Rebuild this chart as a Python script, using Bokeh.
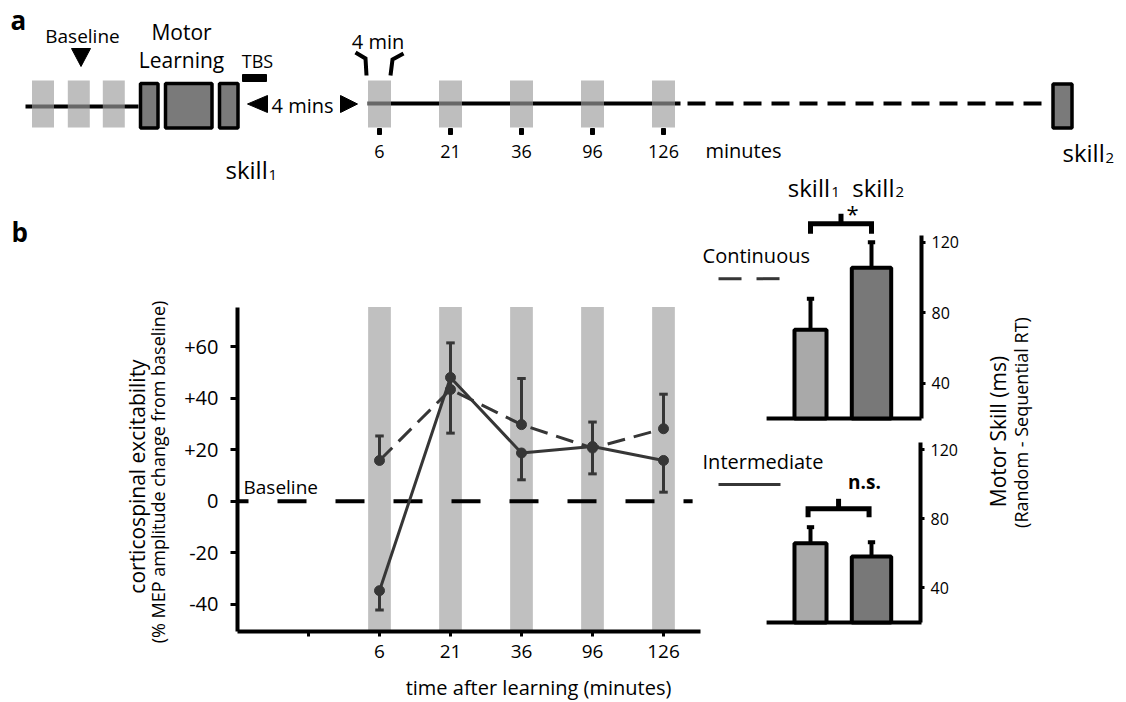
import numpy as np
from bokeh.plotting import figure
from bokeh.models import Range1d, FixedTicker, LinearAxis
from bokeh.core.properties import value
from bokeh.embed import file_html
from bokeh.resources import INLINE

FONT = "Open Sans"
DARK = "#363636"
BASE_SHIFT = 0.33  # em correction so that y is where the glyph baseline lands

# ---------------- data ----------------
probe_times = ["6", "21", "36", "96", "126"]
continuous_mep = [15.8, 43.3, 29.7, 20.6, 28.1]
continuous_sem = [9.5, 18.1, 17.9, 10.1, 13.4]
intermediate_mep = [-34.7, 48.0, 18.7, 21.2, 15.8]
intermediate_sem = [7.5, 21.6, 10.4, 10.6, 12.3]
mep_ticks = [-40, -20, 0, 20, 40, 60]
mep_tick_labels = ["-40", "-20", "0", "+20", "+40", "+60"]

skill_names = ["skill", "skill"]
skill_subs = ["1", "2"]
continuous_skill = [70.3, 105.5]
continuous_skill_sem = [17.6, 14.5]
intermediate_skill = [65.8, 58.2]
intermediate_skill_sem = [9.3, 8.2]
skill_ticks = [40, 80, 120]
bar_colors = ["#a9a9a9", "#787878"]

W, H = 1122, 700


def x_range_for(v0, px0, v1, px1):
    s = (px1 - px0) / (v1 - v0)
    return Range1d(v0 + (0 - px0) / s, v0 + (W - px0) / s)


def y_range_for(v0, py0, v1, py1):
    s = (py1 - py0) / (v1 - v0)
    return Range1d(v0 + (H - py0) / s, v0 + (0 - py0) / s)


p = figure(width=W, height=H, x_range=Range1d(0, W), y_range=Range1d(H, 0),
           output_backend="svg", toolbar_location=None, min_border=0,
           x_axis_type=None, y_axis_type=None)
p.outline_line_color = None
p.background_fill_color = "white"
p.extra_x_ranges = {"bx": x_range_for(0, 379, 4, 663), "sx": x_range_for(1, 810, 2, 871)}
p.extra_y_ranges = {"by": y_range_for(0, 500.7, 60, 346.0),
                    "cy": y_range_for(40, 382.7, 120, 241.7),
                    "iy": y_range_for(40, 587.4, 120, 449.0)}


def txt(x, y, s, size, align="center", baseline="alphabetic", bold=False, angle=0.0, **kw):
    yoff = -BASE_SHIFT * size if baseline == "alphabetic" else 0
    p.text(x=[x], y=[y], text=[s], text_font=value(FONT), text_font_size=f"{size}px",
           text_align=align, text_baseline=baseline, text_color="black",
           text_font_style="bold" if bold else "normal", angle=angle, y_offset=yoff, **kw)


def style_axis(ax, size, tick_out, standoff, line_w=4):
    ax.axis_line_width = line_w
    ax.axis_line_color = "black"
    ax.major_tick_line_width = 3
    ax.major_tick_line_color = "black"
    ax.major_tick_in = 0
    ax.major_tick_out = tick_out
    ax.minor_tick_line_color = None
    ax.major_label_standoff = standoff
    ax.major_label_text_font = FONT
    ax.major_label_text_font_size = f"{size}px"
    ax.major_label_text_color = "black"


# ================= panel a (schematic) =================
txt(10, 28, "a", 26, align="left", bold=True)

p.line([25, 138], [106, 106], line_width=4, color="black")
base_x = [42.5, 78.3, 113.3]
p.quad(left=[x - 11 for x in base_x], right=[x + 11 for x in base_x],
       top=[80] * 3, bottom=[127] * 3, fill_color="#9c9c9c", fill_alpha=0.66, line_color=None)
p.patch([71, 90, 80.5], [48, 48, 66], color="black")
txt(82, 42, "Baseline", 19)

p.quad(left=[140, 165, 219], right=[157.5, 211.5, 237.5], top=[83] * 3, bottom=[127.5] * 3,
       fill_color="#7a7a7a", line_color="black", line_width=3.5)
txt(181, 38, "Motor", 21)
txt(181, 66, "Learning", 21)
txt(257, 66, "TBS", 18)
p.quad(left=[242], right=[266], top=[74], bottom=[81], color="black")
txt(225, 177, "skill", 24, align="left")
txt(268, 179, "1", 15, align="left")

p.patch([247, 267, 267], [103.5, 95, 112], color="black")
p.patch([340, 340, 357], [95, 112, 103.5], color="black")
txt(302, 112, "4 mins", 20)

probe_x = [379 + 71 * i for i in range(len(probe_times))]
p.line([367, 680], [103, 103], line_width=4, color="black")
p.line([687, 1050], [103, 103], line_width=4, color="black", line_dash="18 10")
p.quad(left=[x - 11.5 for x in probe_x], right=[x + 11.5 for x in probe_x],
       top=[80] * 5, bottom=[127] * 5, fill_color="#9c9c9c", fill_alpha=0.66, line_color=None)
p.quad(left=[x - 2 for x in probe_x], right=[x + 2 for x in probe_x],
       top=[128] * 5, bottom=[134] * 5, color="black")
for x, t in zip(probe_x, probe_times):
    txt(x, 157, t, 18)
txt(743, 157, "minutes", 20)
txt(377.5, 48, "4 min", 20)
p.multi_line([[355, 365, 366], [403, 392, 390]], [[52, 58, 75], [53, 59, 75]],
             line_width=4, color="black", line_join="miter")

p.quad(left=[1052.5], right=[1071.5], top=[83.5], bottom=[127.5],
       fill_color="#7a7a7a", line_color="black", line_width=3.5)
txt(1062, 160, "skill", 24, align="left")
txt(1105, 162, "2", 15, align="left")

# ================= panel b: line chart =================
BR = dict(x_range_name="bx", y_range_name="by")
Y0, Y1 = -50.65, 75.3
xs = list(range(len(probe_times)))
txt(11, 240, "b", 26, align="left", bold=True)

p.vbar(x=xs, width=0.32, bottom=Y0, top=Y1, fill_color="#c0c0c0", line_color=None, **BR)
p.line([-2, 4.41], [0, 0], line_width=4, color="black", line_dash="29 29",
       line_dash_offset=18, **BR)
txt(243, 493, "Baseline", 19, align="left")

cont_top = [m + s for m, s in zip(continuous_mep, continuous_sem)]
int_bot = [m - s for m, s in zip(intermediate_mep, intermediate_sem)]
p.segment(x0=xs, y0=continuous_mep, x1=xs, y1=cont_top, line_width=3, color=DARK, **BR)
p.segment(x0=[x - 0.06 for x in xs], y0=cont_top, x1=[x + 0.06 for x in xs], y1=cont_top,
          line_width=3, color=DARK, **BR)
p.segment(x0=xs, y0=intermediate_mep, x1=xs, y1=int_bot, line_width=3, color=DARK, **BR)
p.segment(x0=[x - 0.06 for x in xs], y0=int_bot, x1=[x + 0.06 for x in xs], y1=int_bot,
          line_width=3, color=DARK, **BR)
p.line(xs, continuous_mep, line_width=3, color=DARK, line_dash="18 9", **BR)
p.line(xs, intermediate_mep, line_width=3, color=DARK, **BR)
p.scatter(xs, continuous_mep, size=10, color=DARK, **BR)
p.scatter(xs, intermediate_mep, size=10, color=DARK, **BR)

ax_by = LinearAxis(y_range_name="by", fixed_location=237, bounds=(Y0, Y1),
                   ticker=FixedTicker(ticks=mep_ticks),
                   major_label_overrides=dict(zip(mep_ticks, mep_tick_labels)))
style_axis(ax_by, 20, 7, 12)
p.add_layout(ax_by, "left")
ax_bx = LinearAxis(x_range_name="bx", fixed_location=631, bounds=(-2, 4.52),
                   ticker=FixedTicker(ticks=[-1] + xs),
                   major_label_overrides={-1: "", **{i: t for i, t in zip(xs, probe_times)}})
style_axis(ax_bx, 19, 5, 8)
p.add_layout(ax_bx, "below")

txt(136, 476, "corticospinal excitability", 21, baseline="middle", angle=np.pi / 2)
txt(157, 471.5, "(% MEP amplitude change from baseline)", 18, baseline="middle", angle=np.pi / 2)
txt(538, 694, "time after learning (minutes)", 20)


# ================= bar charts =================
def bars(yname, vals, sems, fixed_x):
    R = dict(x_range_name="sx", y_range_name=yname)
    bx = [1, 2]
    p.segment(x0=[0.28], y0=[20], x1=[2.82], y1=[20], line_width=4, color="black", **R)
    tops = [v + s for v, s in zip(vals, sems)]
    p.segment(x0=bx, y0=vals, x1=bx, y1=tops, line_width=4, color="black", **R)
    p.segment(x0=[x - 0.06 for x in bx], y0=tops, x1=[x + 0.06 for x in bx], y1=tops,
              line_width=4, color="black", **R)
    p.vbar(x=bx, width=[0.525, 0.646], bottom=20, top=vals, fill_color=bar_colors,
           line_color="black", line_width=4, **R)
    ax = LinearAxis(y_range_name=yname, fixed_location=fixed_x, bounds=(20, 124),
                    ticker=FixedTicker(ticks=skill_ticks))
    style_axis(ax, 16, 4, 6)
    p.add_layout(ax, "right")
    return R


CR = bars("cy", continuous_skill, continuous_skill_sem, 921)
p.line([1, 1, 2, 2], [124.8, 130.4, 130.4, 124.8], line_width=5, color="black",
       line_join="miter", **CR)
p.segment(x0=[1.5], y0=[130.4], x1=[1.5], y1=[136.1], line_width=5, color="black", **CR)
txt(1.69, 132.3, "*", 22, **CR)
for xl, xsub, nm, sb in zip([0.628, 1.684], [1.339, 2.395], skill_names, skill_subs):
    txt(xl, 146.8, nm, 24, align="left", **CR)
    txt(xsub, 145.5, sb, 15, align="left", **CR)
txt(-0.770, 108.5, "Continuous", 20, align="left", **CR)
p.line([-0.508, 0.508], [99.3, 99.3], line_width=3, color=DARK, line_dash="23 15", **CR)

IR = bars("iy", intermediate_skill, intermediate_skill_sem, 920)
p.line([0.96, 0.96, 1.96, 1.96], [80.9, 85.7, 85.7, 80.9], line_width=5, color="black",
       line_join="miter", **IR)
p.segment(x0=[1.46], y0=[85.7], x1=[1.46], y1=[91.5], line_width=5, color="black", **IR)
txt(1.885, 97.5, "n.s.", 19, bold=True, **IR)
txt(-0.770, 109.0, "Intermediate", 20, align="left", **IR)
p.line([-0.508, 0.508], [99.8, 99.8], line_width=3, color=DARK, **IR)

txt(997, 431, "Motor Skill (ms)", 21, baseline="middle", angle=np.pi / 2)
txt(1020, 422, "(Random - Sequential RT)", 18, baseline="middle", angle=np.pi / 2)

open("out.html", "w").write(file_html(p, INLINE))
